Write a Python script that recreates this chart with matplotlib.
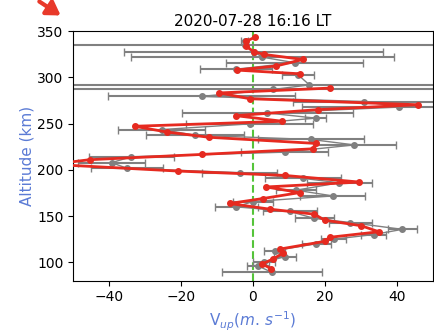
import numpy as np
import matplotlib
matplotlib.use("Agg")
import matplotlib.pyplot as plt

# gray profile with horizontal error bars
alt_gray = [339, 335, 328, 322, 316, 309, 303, 292, 287, 279.5, 274, 268,
            261.6, 256, 249.8, 243.6, 237.5, 232.9, 227, 219.2, 214.2, 207.8,
            201.6, 197, 190.8, 186, 178, 171.8, 165.7, 160, 155, 147.4, 143,
            135.6, 130, 125, 120, 112.5, 106, 100, 96, 89]
v_gray = [-2.3, -2.3, 0.2, 2.6, 11.6, -4.6, 12.5, 15.7, 5.6, -14.3, 31, 40.7,
          4, 17.4, -0.9, -25.4, -16, 16.2, 28.2, 8.8, -33.8, -39.3,
          -34.9, -3.7, 13.9, 24, 12, 22.2, 0, -4.6, 10.2, 17.1, 27.1,
          41.5, 33.6, 22.5, 17.6, 6, 8.9, 3, 1.4, 5.3]
err_gray = [1, 120, 36, 36.6, 19, 10, 4.5, 120, 120, 26, 20, 27,
            23.7, 3, 17.6, 12, 13.6, 14.8, 11.6, 12, 11.8, 9.3,
            10, 10.5, 10.5, 9, 5.5, 9, 5.5, 6, 7.5, 5.5, 6,
            4, 3.5, 3.5, 4, 3, 3, 3, 3, 14]

# red profile
alt_red = [343.5, 339, 334, 328, 325, 319.5, 312.5, 308, 304, np.nan,
           288.5, 283.3, 277, 270.5, 265.2, 258.7, 252.6, 247.2, 241, 235.3,
           228.6, 222.8, 216.7, 211, 206, 198.7, 194, 186.8, 181.5, 175.4,
           169, 163.6, 157.5, 152, 145.6, 139.5, 133, 127, 122.6, 114.2,
           109.7, 103.6, 98.2, 92.8]
v_red = [0.5, -2.0, -2.0, 0.2, 3.0, 13.9, 6.5, -4.5, 13.0, np.nan,
         21.3, -9.3, -0.9, 45.8, 18.1, -4.8, 8.2, -32.9, -24, -12.3,
         17.6, 16.7, -14.3, -45.4, -56, -20.8, 8.8, 29.6, 3.7, 13,
         2.8, -6.5, 4.6, 17.1, 19.9, 30.1, 35.0, 21.3, 19.9, 7.4,
         8.3, 5.6, 2.6, 5.1]

fig = plt.figure(figsize=(4.35, 3.33), dpi=100)
ax = fig.add_axes([0.168, 0.157, 0.827, 0.749])

ax.errorbar(v_gray, alt_gray, xerr=err_gray, fmt='o-', color='grey',
            ms=4, lw=1.0, elinewidth=1.5, capsize=3, zorder=2)
ax.plot(v_red, alt_red, 'o-', color='#e62a20', ms=4, lw=2, zorder=3)
ax.axvline(0, color='#55c43a', ls='--', lw=1.5, zorder=1)

ax.set_xlim(-50, 50)
ax.set_ylim(80, 350)
ax.set_xticks([-40, -20, 0, 20, 40])
ax.set_yticks([100, 150, 200, 250, 300, 350])
ax.tick_params(labelsize=10)
ax.set_title('2020-07-28 16:16 LT', fontsize=11, pad=4)
ax.set_xlabel(r'$\mathrm{V}_{up}(m.\,s^{-1})$', color='#5b7bd5', fontsize=11)
ax.set_ylabel('Altitude (km)', color='#5b7bd5', fontsize=11, labelpad=2)

# red pointer in the corner
fig.patches.append(matplotlib.patches.FancyArrowPatch(
    (37 / 435, 1.0), (63 / 435, 1 - 17 / 333), transform=fig.transFigure,
    arrowstyle='-|>,head_length=8,head_width=5', color='#e8392a', lw=3,
    mutation_scale=1))

fig.savefig('out.png', dpi=100)
